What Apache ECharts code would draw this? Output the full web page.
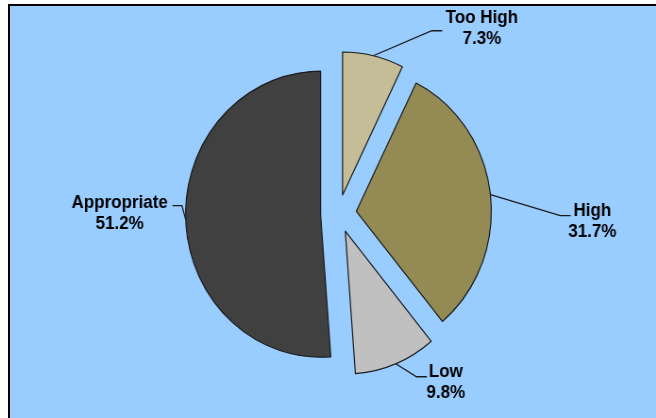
<!DOCTYPE html>
<html>
<head>
	<title>Pie</title>
	<meta charset="utf-8">
	<script src="https://cdn.jsdelivr.net/npm/echarts@6/dist/echarts.min.js"></script>
	<style type="text/css">
		html, body { margin: 0; padding: 0; background: #fff; width: 656px; height: 418px; overflow: hidden; }
		#frame { position: absolute; left: 8px; top: 4px; width: 660px; height: 430px; background: #99CCFF; border-left: 2px solid #000; border-top: 2px solid #000; }
		/* the source picture is squeezed horizontally, so draw wider and scale */
		#chart { position: absolute; left: 0; top: 0; width: 695px; height: 418px; transform: scaleX(0.944); transform-origin: 0 0; }
	</style>
</head>
<body>
<div id="frame"></div>
<div id="chart"></div>
<script type="text/javascript">

	// ===========================================  data
	var categories = ['Too High', 'High', 'Low', 'Appropriate'];
	var shares = [7.3, 31.7, 9.8, 51.2];
	var colors = ['#C4BD97', '#948A54', '#C0C0C0', '#404040'];

	// leader line: elbow, end, label centre (relative to exploded slice anchor)
	var labelOffsets = [
		[[62, -25], [73, -25], [115, -27]],
		[[74, 21], [85, 21], [108, 27]],
		[[22, 13], [33, 13], [53, 19]],
		[[-4, -14], [-14, -14], [-70, -6]]
	];

	var pieCenter = [358.6, 213.5];
	var pieRadius = 143;
	var explode = 19;

	var sliceData = [];
	var labelData = [];
	for (var i = 0; i < categories.length; i++) {
		sliceData.push({
			name: categories[i],
			value: shares[i],
			selected: true,
			itemStyle: { color: colors[i] }
		});
		labelData.push({ name: categories[i], value: shares[i] });
	}

	// ===========================================  render
	var myChart = echarts.init(document.getElementById('chart'));
	var option = {
		animation: false,
		backgroundColor: 'transparent',
		series: [{
			// exploded slices
			type: 'pie',
			center: pieCenter,
			radius: pieRadius,
			startAngle: 90,
			clockwise: true,
			selectedMode: 'multiple',
			selectedOffset: explode,
			data: sliceData,
			itemStyle: { borderColor: '#1a1a1a', borderWidth: 1.2 },
			select: { itemStyle: { borderColor: '#1a1a1a', borderWidth: 1.2 } },
			emphasis: { disabled: true },
			label: { show: false },
			labelLine: { show: false }
		}, {
			// same pie, only for the labels
			type: 'pie',
			silent: true,
			center: pieCenter,
			radius: pieRadius,
			startAngle: 90,
			clockwise: true,
			avoidLabelOverlap: false,
			data: labelData,
			itemStyle: { color: 'transparent', borderWidth: 0 },
			emphasis: { disabled: true },
			label: {
				show: true,
				color: '#000',
				fontFamily: 'Liberation Sans, Arial, sans-serif',
				fontSize: 18,
				fontWeight: 'bold',
				lineHeight: 21,
				formatter: function(p) {
					return p.name + '\n' + p.value.toFixed(1) + '%';
				}
			},
			labelLine: {
				show: true,
				length: 20,
				length2: 10,
				lineStyle: { color: '#1a1a1a', width: 1.3 }
			},
			labelLayout: function(p) {
				var a = p.labelLinePoints[0];
				var vx = a[0] - pieCenter[0], vy = a[1] - pieCenter[1];
				var len = Math.sqrt(vx * vx + vy * vy);
				var s = [a[0] + explode * vx / len, a[1] + explode * vy / len];
				var o = labelOffsets[p.dataIndex];
				return {
					x: s[0] + o[2][0],
					y: s[1] + o[2][1],
					align: 'center',
					verticalAlign: 'middle',
					labelLinePoints: [
						[s[0], s[1]],
						[s[0] + o[0][0], s[1] + o[0][1]],
						[s[0] + o[1][0], s[1] + o[1][1]]
					]
				};
			}
		}]
	};
	myChart.setOption(option);

</script>
</body>
</html>
